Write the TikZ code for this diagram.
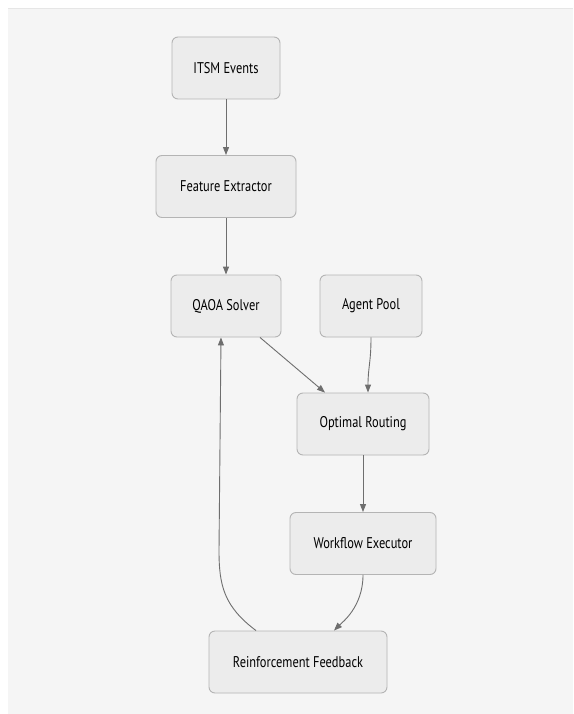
\documentclass[tikz,border=0pt]{standalone}
\usepackage{fontspec}
\setmainfont[FakeStretch=0.8]{PT Sans}
\usetikzlibrary{arrows.meta,calc}
\definecolor{panel}{HTML}{F5F5F5}
\definecolor{panelline}{HTML}{E6E6E6}
\definecolor{nodefill}{HTML}{ECECEC}
\definecolor{nodeline}{HTML}{B4B4B4}
\definecolor{edgecol}{HTML}{6E6E6E}
\tikzset{
  box/.style={draw=nodeline, fill=nodefill, line width=0.9pt, rounded corners=6pt,
    minimum height=62pt, inner sep=0pt, font=\fontsize{15.5}{18}\selectfont, text=black},
  arr/.style={draw=edgecol, line width=0.9pt, -{Triangle[length=8pt,width=6pt]}}
}
\begin{document}
\begin{tikzpicture}[x=1pt,y=1pt]
\useasboundingbox (0,0) rectangle (573,-714);
\fill[white] (0,0) rectangle (573,-714);
\fill[panel] (8,-9) rectangle (573,-714);
\draw[panelline, line width=1pt] (8,-9) -- (573,-9);
\node[box, minimum width=108pt] (itsm) at (226,-68) {ITSM Events};
\node[box, minimum width=140pt] (feat) at (226,-186.5) {Feature Extractor};
\node[box, minimum width=110pt] (qaoa) at (226,-306) {QAOA Solver};
\node[box, minimum width=102pt] (agent) at (371,-306) {Agent Pool};
\node[box, minimum width=132pt] (opt) at (363,-424) {Optimal Routing};
\node[box, minimum width=146pt] (wf) at (363,-543.5) {Workflow Executor};
\node[box, minimum width=178pt] (rf) at (298,-662) {Reinforcement Feedback};
\draw[arr] (itsm) -- (feat);
\draw[arr] (feat) -- (qaoa);
\draw[arr] ([xshift=34pt]qaoa.south) -- ([xshift=-38pt]opt.north);
\draw[arr] (agent.south) .. controls ([yshift=-25pt]agent.south) and ([xshift=5pt,yshift=25pt]opt.north) .. ([xshift=5pt]opt.north);
\draw[arr] (opt) -- (wf);
\draw[arr] (wf.south) .. controls ([yshift=-32pt]wf.south) and ([xshift=44pt,yshift=8pt]rf.north) .. ([xshift=36pt]rf.north);
\draw[arr] ([xshift=-42pt]rf.north) .. controls ([xshift=-74pt,yshift=24pt]rf.north) and ([xshift=-79pt,yshift=45pt]rf.north) .. ([xshift=-79pt,yshift=80pt]rf.north) -- ([xshift=-5pt]qaoa.south);
\end{tikzpicture}
\end{document}
